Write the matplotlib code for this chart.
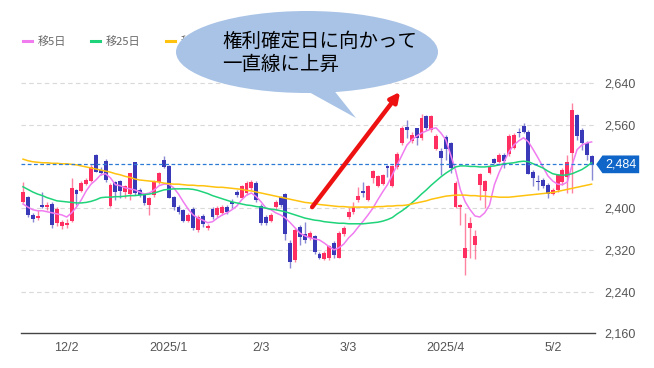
import numpy as np
import matplotlib
matplotlib.use("Agg")
import matplotlib.pyplot as plt
from matplotlib.patches import Ellipse, Polygon
from matplotlib.transforms import Affine2D

plt.rcParams['font.family'] = ['Noto Sans CJK JP', 'DejaVu Sans']

# daily candles (Nov 2024 - May 2025)
opens = [2412, 2420, 2387, 2381, 2405, 2402, 2408, 2372, 2366, 2368,
         2377, 2435, 2433, 2448, 2452, 2502, 2473, 2489, 2404, 2450,
         2452, 2431, 2427, 2487, 2435, 2425, 2406, 2425, 2450, 2492,
         2481, 2421, 2402, 2396, 2377, 2398, 2358, 2385, 2362, 2398,
         2387, 2391, 2402, 2411, 2431, 2421, 2429, 2439, 2448, 2404,
         2383, 2377, 2402, 2420, 2427, 2333, 2301, 2364, 2349, 2343,
         2345, 2312, 2304, 2306, 2333, 2306, 2352, 2383, 2393, 2416,
         2433, 2416, 2458, 2444, 2448, 2481, 2444, 2479, 2525, 2554,
         2529, 2552, 2536, 2575, 2550, 2515, 2508, 2536, 2525, 2402,
         2402, 2305, 2362, 2331, 2446, 2433, 2469, 2494, 2490, 2502,
         2504, 2517, 2546, 2556, 2546, 2469, 2452, 2454, 2444, 2427,
         2435, 2450, 2460, 2506, 2577, 2550, 2525, 2500]
highs = [2450, 2424, 2391, 2397, 2431, 2412, 2412, 2402, 2377, 2379,
         2458, 2437, 2452, 2458, 2485, 2503, 2479, 2494, 2448, 2452,
         2454, 2444, 2467, 2488, 2438, 2429, 2421, 2454, 2469, 2500,
         2483, 2423, 2406, 2398, 2390, 2402, 2387, 2389, 2370, 2402,
         2404, 2406, 2406, 2418, 2435, 2444, 2452, 2454, 2452, 2408,
         2387, 2391, 2415, 2423, 2429, 2339, 2362, 2368, 2373, 2356,
         2349, 2316, 2318, 2329, 2337, 2356, 2366, 2401, 2412, 2441,
         2450, 2444, 2473, 2464, 2465, 2483, 2483, 2508, 2557, 2569,
         2546, 2554, 2580, 2578, 2578, 2542, 2515, 2540, 2527, 2452,
         2408, 2391, 2383, 2358, 2467, 2454, 2483, 2496, 2506, 2506,
         2542, 2544, 2554, 2563, 2550, 2473, 2463, 2458, 2448, 2439,
         2465, 2477, 2502, 2602, 2580, 2554, 2529, 2502]
lows = [2410, 2383, 2373, 2377, 2400, 2397, 2362, 2366, 2360, 2362,
        2373, 2406, 2431, 2444, 2450, 2469, 2464, 2450, 2402, 2416,
        2420, 2420, 2416, 2425, 2421, 2406, 2387, 2421, 2446, 2477,
        2420, 2397, 2389, 2373, 2373, 2358, 2354, 2364, 2358, 2379,
        2383, 2387, 2389, 2400, 2421, 2419, 2425, 2435, 2412, 2368,
        2368, 2373, 2396, 2402, 2339, 2285, 2297, 2330, 2333, 2339,
        2312, 2302, 2300, 2300, 2304, 2304, 2347, 2379, 2389, 2412,
        2421, 2413, 2448, 2441, 2444, 2460, 2441, 2475, 2521, 2534,
        2525, 2521, 2531, 2550, 2546, 2512, 2464, 2492, 2467, 2400,
        2368, 2272, 2305, 2302, 2416, 2400, 2465, 2485, 2487, 2477,
        2500, 2514, 2536, 2544, 2465, 2442, 2435, 2439, 2420, 2425,
        2431, 2444, 2429, 2429, 2531, 2512, 2492, 2454]
closes = [2431, 2387, 2379, 2385, 2403, 2406, 2368, 2397, 2373, 2371,
          2437, 2427, 2448, 2454, 2479, 2471, 2468, 2454, 2444, 2431,
          2433, 2441, 2466, 2429, 2425, 2410, 2418, 2450, 2466, 2479,
          2421, 2402, 2393, 2377, 2387, 2362, 2383, 2370, 2365, 2383,
          2400, 2402, 2393, 2409, 2425, 2441, 2448, 2449, 2416, 2372,
          2372, 2387, 2411, 2406, 2352, 2297, 2358, 2345, 2339, 2352,
          2316, 2306, 2314, 2326, 2310, 2352, 2362, 2391, 2402, 2422,
          2429, 2441, 2470, 2460, 2462, 2477, 2481, 2504, 2552, 2550,
          2540, 2535, 2573, 2554, 2575, 2538, 2496, 2515, 2477, 2448,
          2406, 2322, 2370, 2345, 2464, 2452, 2479, 2487, 2502, 2492,
          2538, 2540, 2544, 2546, 2467, 2458, 2450, 2444, 2427, 2435,
          2462, 2473, 2487, 2588, 2540, 2525, 2502, 2484]

ma5 = [2408, 2402, 2397, 2395, 2395, 2393, 2391, 2389, 2387, 2383,
       2391, 2402, 2416, 2433, 2446, 2454, 2464, 2466, 2458, 2445,
       2443, 2439, 2437, 2435, 2431, 2427, 2429, 2435, 2443, 2446,
       2446, 2439, 2427, 2412, 2398, 2387, 2381, 2377, 2372, 2374,
       2381, 2387, 2391, 2397, 2404, 2416, 2425, 2429, 2422, 2412,
       2400, 2397, 2391, 2387, 2381, 2372, 2362, 2352, 2347, 2343,
       2341, 2339, 2333, 2326, 2320, 2324, 2331, 2343, 2352, 2364,
       2375, 2387, 2400, 2416, 2431, 2445, 2464, 2483, 2502, 2521,
       2531, 2538, 2544, 2548, 2552, 2554, 2544, 2531, 2502, 2473,
       2435, 2412, 2397, 2385, 2383, 2391, 2406, 2445, 2469, 2489,
       2508, 2521, 2529, 2535, 2527, 2512, 2496, 2479, 2462, 2452,
       2446, 2445, 2450, 2483, 2512, 2521, 2525, 2527]
ma25 = [2441, 2436, 2431, 2427, 2424, 2420, 2417, 2414, 2413, 2412,
        2411, 2410, 2410, 2411, 2413, 2416, 2420, 2421, 2421, 2422,
        2422, 2423, 2424, 2424, 2425, 2426, 2427, 2429, 2432, 2435,
        2436, 2437, 2437, 2437, 2437, 2436, 2434, 2431, 2428, 2424,
        2421, 2418, 2415, 2412, 2410, 2408, 2406, 2405, 2403, 2402,
        2400, 2398, 2397, 2395, 2393, 2390, 2387, 2384, 2381, 2379,
        2377, 2376, 2374, 2373, 2372, 2371, 2371, 2370, 2370, 2370,
        2370, 2371, 2372, 2373, 2375, 2378, 2382, 2389, 2395, 2402,
        2410, 2418, 2427, 2435, 2444, 2452, 2460, 2467, 2473, 2479,
        2481, 2481, 2480, 2480, 2479, 2479, 2480, 2481, 2483, 2485,
        2486, 2487, 2489, 2490, 2489, 2485, 2481, 2477, 2471, 2466,
        2464, 2463, 2464, 2466, 2470, 2474, 2480, 2487]
ma75 = [2494, 2491, 2489, 2488, 2487, 2487, 2486, 2486, 2485, 2485,
        2484, 2483, 2481, 2479, 2477, 2475, 2473, 2471, 2469, 2466,
        2464, 2461, 2459, 2456, 2454, 2453, 2452, 2451, 2450, 2448,
        2447, 2446, 2446, 2445, 2444, 2444, 2443, 2443, 2442, 2441,
        2440, 2440, 2439, 2438, 2437, 2436, 2434, 2433, 2431, 2429,
        2427, 2425, 2423, 2421, 2419, 2417, 2415, 2413, 2411, 2410,
        2409, 2407, 2406, 2405, 2404, 2403, 2403, 2402, 2402, 2402,
        2402, 2402, 2402, 2403, 2403, 2404, 2404, 2405, 2405, 2406,
        2408, 2410, 2412, 2414, 2417, 2419, 2421, 2423, 2424, 2425,
        2425, 2425, 2424, 2424, 2423, 2423, 2422, 2422, 2421, 2421,
        2421, 2422, 2423, 2424, 2425, 2426, 2427, 2428, 2429, 2430,
        2432, 2434, 2436, 2438, 2440, 2442, 2444, 2446]

tick_idx = [9, 30, 49, 67, 87, 109]
tick_labels = ["12/2", "2025/1", "2/3", "3/3", "2025/4", "5/2"]
y_ticks = [2160, 2240, 2320, 2400, 2560, 2640]
last_price = 2484

UP = "#ff2f62"
DOWN = "#3a3ab8"
W, H = 654, 368

fig = plt.figure(figsize=(W / 100, H / 100), dpi=100)
ax = fig.add_axes([21 / W, 1 - 333.3 / H, 574 / W, (333.3 - 51.7) / H])

x = np.arange(len(closes))
o = np.array(opens)
c = np.array(closes)
up = c >= o
colors = np.where(up, UP, DOWN)

ax.vlines(x, lows, highs, colors=colors, linewidth=1.0, alpha=0.6, zorder=3)
ax.bar(x, np.abs(c - o) + 1.5, bottom=np.minimum(o, c) - 0.75, width=0.8,
       color=colors, linewidth=0, zorder=4)

l5, = ax.plot(x, ma5, color="#f07cf0", lw=1.1, zorder=5)
l25, = ax.plot(x, ma25, color="#1fd37a", lw=1.1, zorder=5)
l75, = ax.plot(x, ma75, color="#ffc20e", lw=1.1, zorder=5)

ax.axhline(last_price, color="#2b7bd6", lw=0.9, ls=(0, (3, 2)), zorder=6)

ax.set_xlim(-0.41, 117.7)
ax.set_ylim(2160, 2700)
for v in y_ticks[1:]:
    ax.axhline(v, color="#d9d9d9", lw=0.8, ls=(0, (4, 3)), zorder=1)

for s in ["top", "left", "right"]:
    ax.spines[s].set_visible(False)
ax.spines["bottom"].set_color("#444444")
ax.spines["bottom"].set_linewidth(1.0)

ax.yaxis.tick_right()
ax.set_yticks(y_ticks)
ax.set_yticklabels([f"{v:,}" for v in y_ticks])
ax.set_xticks(tick_idx)
ax.set_xticklabels(tick_labels)
ax.tick_params(length=0, labelsize=8, labelcolor="#555555")
ax.tick_params(axis="y", pad=7)
ax.tick_params(axis="x", pad=6)
for lab in ax.get_xticklabels() + ax.get_yticklabels():
    lab.set_family(["Liberation Sans Narrow", "Liberation Sans"])
    lab.set_fontsize(9)

# last price tag
tr = ax.get_yaxis_transform()
tag = Polygon([(1.002, last_price), (1.013, last_price + 17), (1.077, last_price + 17),
               (1.077, last_price - 17), (1.013, last_price - 17)],
              closed=True, transform=tr, facecolor="#0f66c8", edgecolor="none",
              clip_on=False, zorder=8)
ax.add_patch(tag)
ax.text(1.046, last_price, f"{last_price:,}", transform=tr, color="white",
        ha="center", va="center", fontsize=9, zorder=9, clip_on=False,
        family=["Liberation Sans Narrow", "Liberation Sans"])

# legend
leg = fig.legend([l5, l25, l75], ["移5日", "移25日", "移75日"], loc="center left",
                 bbox_to_anchor=(13 / W, 1 - 42 / H), ncol=3, frameon=False,
                 fontsize=8, handlelength=0.8, handletextpad=0.5, columnspacing=2.3,
                 labelcolor="#666666")
for h in leg.get_lines():
    h.set_linewidth(2.2)

# arrow
ax.annotate("", xy=(77.6, 2623), xytext=(59.5, 2402),
            arrowprops=dict(arrowstyle="-|>", color="#ee1111", lw=3.2,
                            mutation_scale=14, shrinkA=0, shrinkB=0),
            zorder=7, annotation_clip=False)

# callout bubble (figure pixel coords, origin top-left)
px = Affine2D().scale(1 / W, -1 / H).translate(0, 1) + fig.transFigure
bubble_c = "#a9c3e6"
fig.patches.append(Ellipse((307, 52), 262, 82, transform=px, facecolor=bubble_c,
                           edgecolor="none", zorder=10))
fig.patches.append(Polygon([(298, 86), (356, 118), (332, 88)], closed=True,
                           transform=px, facecolor=bubble_c, edgecolor="none",
                           zorder=10))
fig.text(222 / W, 1 - 53 / H, "権利確定日に向かって\n一直線に上昇", fontsize=14,
         color="black", ha="left", va="center", linespacing=1.1, zorder=11)

fig.savefig("out.png", dpi=100)
